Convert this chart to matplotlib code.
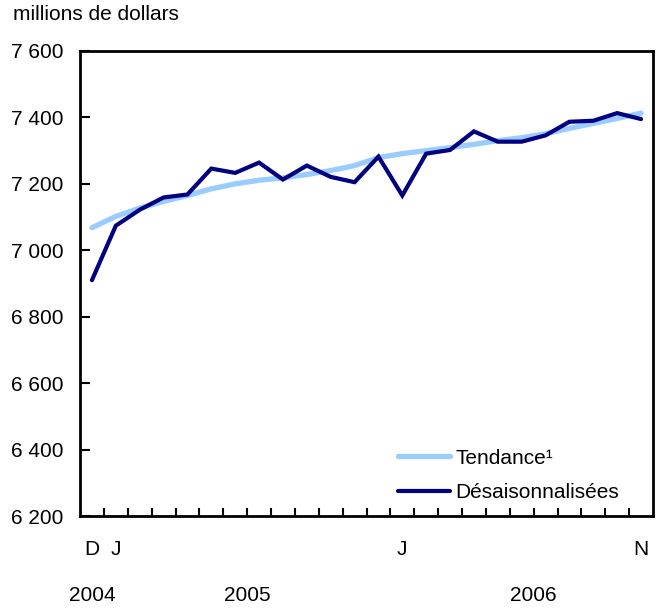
import matplotlib
matplotlib.use("Agg")
import matplotlib.pyplot as plt

plt.rcParams['font.family'] = ['Liberation Sans', 'DejaVu Sans']

months = list(range(24))  # Dec 2004 .. Nov 2006
trend = [7068, 7102, 7127, 7147, 7165, 7185, 7200, 7211, 7218, 7228, 7240, 7255,
         7279, 7291, 7300, 7309, 7319, 7330, 7339, 7351, 7367, 7382, 7397, 7413]
adjusted = [6910, 7074, 7122, 7159, 7168, 7246, 7233, 7264, 7213, 7255, 7221, 7205,
            7282, 7165, 7291, 7302, 7358, 7327, 7327, 7346, 7387, 7390, 7413, 7395]
month_labels = {0: 'D', 1: 'J', 13: 'J', 23: 'N'}
year_labels = [(0, '2004'), (6.5, '2005'), (18.5, '2006')]
yticks = [6200, 6400, 6600, 6800, 7000, 7200, 7400, 7600]

FS = 15
fig = plt.figure(figsize=(6.62, 6.08), dpi=100)
ax = fig.add_axes([80/662, (608-516)/608, (653-80)/662, (516-51)/608])

ax.plot(months, trend, color='#99ccff', lw=3.8, solid_capstyle='round', label='Tendance¹')
ax.plot(months, adjusted, color='#000080', lw=3.0, solid_capstyle='round',
        solid_joinstyle='miter', label='Désaisonnalisées')

ax.set_xlim(-0.5, 23.5)
ax.set_ylim(6200, 7600)
ax.set_yticks(yticks)
ax.set_yticklabels([f"{v:,}".replace(',', ' ') for v in yticks], fontsize=FS)
ax.tick_params(axis='y', direction='in', length=7, width=1.5, pad=12)
ax.set_xticks([k + 0.5 for k in range(23)])
ax.set_xticklabels([])
ax.tick_params(axis='x', direction='in', length=6, width=1.5)
for s in ax.spines.values():
    s.set_linewidth(2)

for m, lab in month_labels.items():
    ax.text(m, -0.072, lab, transform=ax.get_xaxis_transform(), ha='center', va='center', fontsize=FS)
for m, lab in year_labels:
    ax.text(m, -0.17, lab, transform=ax.get_xaxis_transform(), ha='center', va='center', fontsize=FS)

fig.text(13/662, 1 - 15/608, 'millions de dollars', ha='left', va='center', fontsize=FS)

ax.legend(loc='lower left', frameon=False, fontsize=FS, handlelength=2.5,
          handletextpad=0.25, labelspacing=0.74, borderpad=0, borderaxespad=0,
          bbox_to_anchor=((398-80)/573, (516-502)/465))

fig.savefig('out.png', dpi=100)
